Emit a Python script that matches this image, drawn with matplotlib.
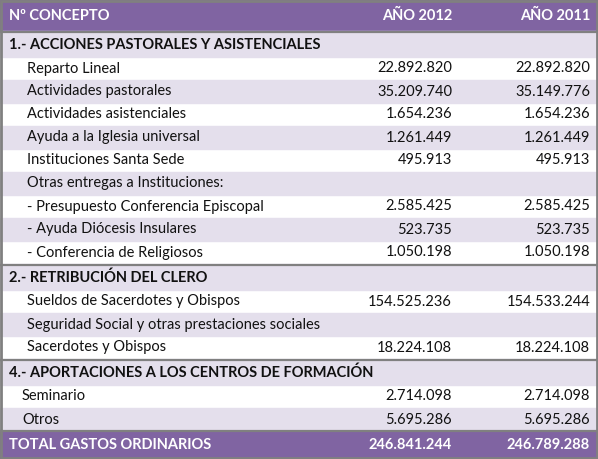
import matplotlib
matplotlib.use("Agg")
import matplotlib.pyplot as plt
from matplotlib.patches import Rectangle

headers = ["Nº CONCEPTO", "AÑO 2012", "AÑO 2011"]
labels = ["1.- ACCIONES PASTORALES Y ASISTENCIALES", "Reparto Lineal", "Actividades pastorales",
          "Actividades asistenciales", "Ayuda a la Iglesia universal", "Instituciones Santa Sede",
          "Otras entregas a Instituciones:", "- Presupuesto Conferencia Episcopal",
          "- Ayuda Diócesis Insulares", "- Conferencia de Religiosos",
          "2.- RETRIBUCIÓN DEL CLERO", "Sueldos de Sacerdotes y Obispos",
          "Seguridad Social y otras prestaciones sociales", "Sacerdotes y Obispos",
          "4.- APORTACIONES A LOS CENTROS DE FORMACIÓN", "Seminario", "Otros"]
v2012 = ["", "22.892.820", "35.209.740", "1.654.236", "1.261.449", "495.913", "",
         "2.585.425", "523.735", "1.050.198", "", "154.525.236", "", "18.224.108",
         "", "2.714.098", "5.695.286"]
v2011 = ["", "22.892.820", "35.149.776", "1.654.236", "1.261.449", "495.913", "",
         "2.585.425", "523.735", "1.050.198", "", "154.533.244", "", "18.224.108",
         "", "2.714.098", "5.695.286"]
kind = ["S", "a", "b", "a", "b", "a", "b", "a", "b", "a", "S", "a", "b", "a", "S", "a", "b"]
total = ["TOTAL GASTOS ORDINARIOS", "246.841.244", "246.789.288"]

W, H = 598, 459
fig = plt.figure(figsize=(W/100, H/100), dpi=100)
ax = fig.add_axes([0, 0, 1, 1])
ax.set_xlim(0, W); ax.set_ylim(H, 0); ax.axis("off")
purple = "#8064A2"; lav = "#E4DFEC"; grey = "#808080"
fam = ["Lato", "DejaVu Sans"]
fs = 10.5

ax.add_patch(Rectangle((0, 0), W, H, color="white"))
# header
ax.add_patch(Rectangle((0, 0), W, 31, color=purple))
ax.text(9, 16, headers[0], color="white", weight="bold", fontsize=fs, va="center", family=fam)
ax.text(452, 16, headers[1], color="white", weight="bold", fontsize=fs, va="center", ha="right", family=fam)
ax.text(590, 16, headers[2], color="white", weight="bold", fontsize=fs, va="center", ha="right", family=fam)

y = 31
for lab, a, b, k in zip(labels, v2012, v2011, kind):
    h = 26 if k == "S" else 23
    if k == "S":
        ax.add_patch(Rectangle((0, y), W, h, color=lav))
        ax.plot([0, W], [y+1, y+1], color=grey, lw=1.6)
        ax.text(9, y+h/2+1, lab, weight="bold", fontsize=fs, va="center", family=fam, color="#111111")
    else:
        if k == "b":
            ax.add_patch(Rectangle((0, y), W, h, color=lav))
        x0 = 22 if lab in ("Seminario", "Otros") else 27
        ax.text(x0, y+h/2, lab, fontsize=fs, va="center", family=fam, color="#111111")
        ax.text(452, y+h/2, a, fontsize=fs, va="center", ha="right", family=fam, color="#111111")
        ax.text(590, y+h/2, b, fontsize=fs, va="center", ha="right", family=fam, color="#111111")
    y += h

ax.add_patch(Rectangle((0, y), W, H-y, color=purple))
ax.plot([0, W], [y, y], color=grey, lw=1.6)
yc = (y+H)/2
ax.text(9, yc, total[0], color="white", weight="bold", fontsize=fs, va="center", family=fam)
ax.text(452, yc, total[1], color="white", weight="bold", fontsize=fs, va="center", ha="right", family=fam)
ax.text(590, yc, total[2], color="white", weight="bold", fontsize=fs, va="center", ha="right", family=fam)
# outer border
ax.add_patch(Rectangle((1, 1), W-2, H-2, fill=False, ec=grey, lw=2))
fig.savefig("out.png", dpi=100)
